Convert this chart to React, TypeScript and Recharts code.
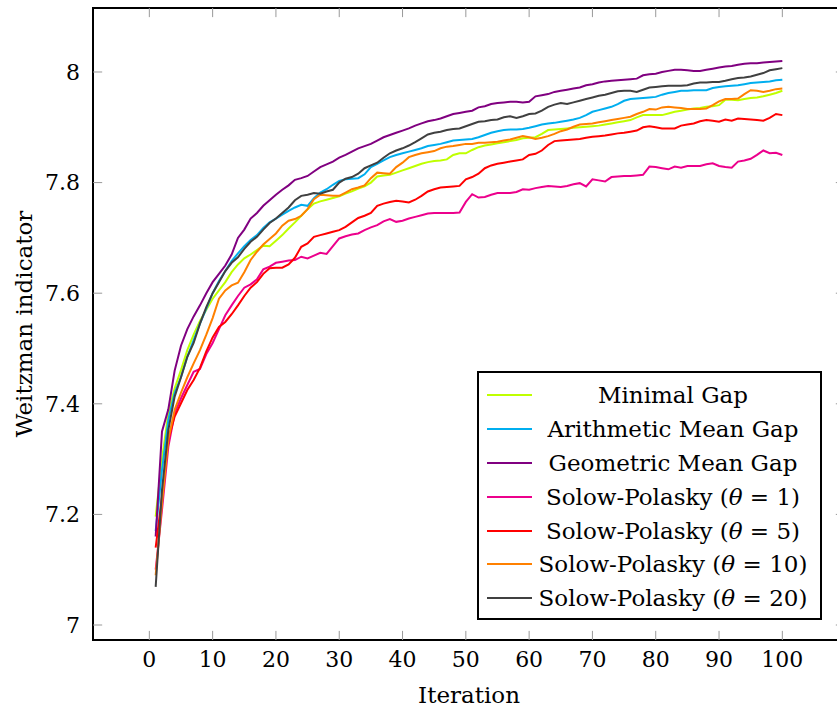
import React from "react";
import {
  LineChart,
  Line,
  XAxis,
  YAxis,
  ReferenceLine,
  ReferenceArea,
  Legend,
} from "recharts";

const FONT = "'DejaVu Serif', 'Liberation Serif', 'Noto Serif', serif";

const iterations = Array.from({ length: 100 }, (_, i) => i + 1);

const minimalGap = [
  7.196, 7.3, 7.383, 7.428, 7.461, 7.497, 7.525, 7.55, 7.57, 7.59,
  7.605, 7.62, 7.638, 7.652, 7.663, 7.67, 7.678, 7.686, 7.685, 7.695,
  7.705, 7.717, 7.728, 7.74, 7.752, 7.762, 7.766, 7.769, 7.772, 7.775,
  7.78, 7.784, 7.789, 7.793, 7.8, 7.811, 7.813, 7.814, 7.818, 7.822,
  7.826, 7.83, 7.834, 7.837, 7.839, 7.84, 7.842, 7.85, 7.853, 7.853,
  7.859, 7.864, 7.867, 7.869, 7.871, 7.873, 7.875, 7.877, 7.88, 7.881,
  7.882, 7.888, 7.895, 7.896, 7.897, 7.898, 7.899, 7.9, 7.901, 7.902,
  7.903, 7.905, 7.907, 7.909, 7.911, 7.913, 7.918, 7.922, 7.922, 7.922,
  7.922, 7.925, 7.928, 7.93, 7.932, 7.934, 7.935, 7.937, 7.938, 7.94,
  7.95, 7.95, 7.949, 7.951, 7.953, 7.954, 7.956, 7.959, 7.962, 7.966,
];

const arithmeticGap = [
  7.17, 7.28, 7.371, 7.42, 7.448, 7.485, 7.515, 7.545, 7.572, 7.6,
  7.622, 7.64, 7.658, 7.672, 7.685, 7.696, 7.705, 7.718, 7.728, 7.735,
  7.742, 7.749, 7.755, 7.76, 7.758, 7.772, 7.782, 7.788, 7.796, 7.803,
  7.806, 7.807, 7.808, 7.815, 7.828, 7.834, 7.84, 7.846, 7.85, 7.853,
  7.856, 7.859, 7.862, 7.866, 7.868, 7.87, 7.873, 7.876, 7.877, 7.878,
  7.879, 7.882, 7.886, 7.89, 7.893, 7.895, 7.896, 7.896, 7.897, 7.899,
  7.902, 7.905, 7.907, 7.908, 7.91, 7.912, 7.914, 7.917, 7.922, 7.928,
  7.931, 7.934, 7.937, 7.942, 7.948, 7.951, 7.952, 7.953, 7.954, 7.955,
  7.959, 7.962, 7.964, 7.966, 7.966, 7.967, 7.967, 7.967, 7.971, 7.973,
  7.974, 7.975, 7.976, 7.978, 7.98, 7.981, 7.982, 7.983, 7.985, 7.986,
];

const geometricGap = [
  7.16, 7.35, 7.39, 7.46, 7.505, 7.535, 7.558, 7.578, 7.6, 7.62,
  7.635, 7.65, 7.67, 7.7, 7.715, 7.735, 7.745, 7.758, 7.768, 7.778,
  7.787, 7.795, 7.805, 7.808, 7.812, 7.82, 7.828, 7.833, 7.838, 7.845,
  7.85, 7.856, 7.862, 7.866, 7.87, 7.876, 7.882, 7.886, 7.89, 7.894,
  7.898, 7.903, 7.907, 7.911, 7.913, 7.916, 7.92, 7.924, 7.926, 7.928,
  7.93, 7.936, 7.938, 7.942, 7.944, 7.945, 7.946, 7.946, 7.945, 7.946,
  7.956, 7.958, 7.96, 7.964, 7.966, 7.968, 7.97, 7.972, 7.976, 7.978,
  7.981, 7.983, 7.984, 7.985, 7.986, 7.987, 7.988, 7.994, 7.996, 7.997,
  8.0, 8.002, 8.004, 8.004, 8.003, 8.002, 8.002, 8.004, 8.006, 8.008,
  8.01, 8.011, 8.013, 8.015, 8.016, 8.016, 8.017, 8.018, 8.019, 8.02,
];

const solowTheta1 = [
  7.1, 7.208, 7.322, 7.383, 7.41, 7.434, 7.458, 7.463, 7.49, 7.51,
  7.535, 7.56, 7.578, 7.595, 7.61, 7.616, 7.625, 7.643, 7.648, 7.655,
  7.657, 7.659, 7.66, 7.666, 7.663, 7.668, 7.673, 7.671, 7.685, 7.699,
  7.703, 7.706, 7.708, 7.714, 7.719, 7.723, 7.73, 7.734, 7.729, 7.731,
  7.735, 7.738, 7.741, 7.744, 7.745, 7.745, 7.745, 7.745, 7.746, 7.765,
  7.779, 7.773, 7.774, 7.778, 7.781, 7.781, 7.781, 7.783, 7.788, 7.787,
  7.79, 7.792, 7.794, 7.793, 7.792, 7.794, 7.797, 7.799, 7.793, 7.806,
  7.804, 7.802, 7.81, 7.811, 7.812, 7.812, 7.813, 7.814, 7.829, 7.828,
  7.826, 7.824, 7.829, 7.827, 7.83, 7.83, 7.83, 7.833, 7.835, 7.83,
  7.828, 7.827, 7.838, 7.84, 7.843, 7.85, 7.858, 7.853, 7.854, 7.85,
];

const solowTheta5 = [
  7.14, 7.232, 7.335, 7.377, 7.401, 7.425, 7.443, 7.465, 7.495, 7.52,
  7.539, 7.548, 7.562, 7.578, 7.595, 7.61, 7.62, 7.635, 7.645, 7.646,
  7.646, 7.652, 7.664, 7.684, 7.69, 7.702, 7.705, 7.708, 7.711, 7.714,
  7.72, 7.728, 7.736, 7.74, 7.745, 7.758, 7.762, 7.765, 7.767, 7.766,
  7.764, 7.769, 7.776, 7.784, 7.788, 7.791, 7.792, 7.793, 7.794, 7.806,
  7.81, 7.816, 7.826, 7.831, 7.834, 7.836, 7.838, 7.84, 7.842, 7.85,
  7.852, 7.858, 7.868, 7.875, 7.876, 7.877, 7.878, 7.879, 7.881, 7.883,
  7.884, 7.885, 7.887, 7.889, 7.89, 7.892, 7.894, 7.9, 7.902, 7.9,
  7.898, 7.898, 7.898, 7.903, 7.905, 7.907, 7.911, 7.913, 7.912, 7.91,
  7.914, 7.912, 7.916, 7.915, 7.914, 7.913, 7.912, 7.917, 7.924, 7.922,
];

const solowTheta10 = [
  7.09, 7.22, 7.335, 7.389, 7.42, 7.448, 7.473, 7.497, 7.525, 7.555,
  7.59, 7.605, 7.614, 7.619, 7.638, 7.66, 7.675, 7.688, 7.698, 7.708,
  7.722, 7.731, 7.734, 7.74, 7.752, 7.77, 7.778, 7.777, 7.776, 7.776,
  7.782, 7.788, 7.791, 7.795, 7.808, 7.818, 7.817, 7.816, 7.828, 7.836,
  7.846, 7.85, 7.853, 7.855, 7.857, 7.862, 7.865, 7.866, 7.868, 7.87,
  7.87, 7.872, 7.872, 7.873, 7.874, 7.876, 7.878, 7.881, 7.884, 7.882,
  7.879, 7.881, 7.884, 7.888, 7.893, 7.896, 7.901, 7.905, 7.906, 7.907,
  7.909, 7.911, 7.913, 7.915, 7.917, 7.919, 7.924, 7.928, 7.933, 7.932,
  7.936, 7.937, 7.936, 7.935, 7.933, 7.933, 7.933, 7.934, 7.94, 7.947,
  7.951, 7.951, 7.952, 7.96, 7.967, 7.966, 7.964, 7.966, 7.969, 7.97,
];

const solowTheta20 = [
  7.069, 7.244, 7.353, 7.413, 7.448, 7.485, 7.51, 7.545, 7.575, 7.6,
  7.62, 7.64, 7.655, 7.665, 7.68, 7.693, 7.702, 7.715, 7.727, 7.735,
  7.745, 7.755, 7.768, 7.776, 7.778, 7.781, 7.78, 7.784, 7.787, 7.8,
  7.807, 7.81, 7.816, 7.826, 7.831, 7.836, 7.845, 7.853, 7.858, 7.862,
  7.867, 7.873, 7.88, 7.887, 7.89, 7.892, 7.895, 7.897, 7.898, 7.902,
  7.906, 7.91, 7.911, 7.913, 7.914, 7.918, 7.92, 7.917, 7.92, 7.924,
  7.925, 7.93, 7.937, 7.941, 7.944, 7.942, 7.945, 7.948, 7.951, 7.954,
  7.957, 7.959, 7.962, 7.965, 7.966, 7.966, 7.964, 7.968, 7.972, 7.973,
  7.974, 7.975, 7.975, 7.975, 7.976, 7.979, 7.981, 7.981, 7.982, 7.982,
  7.984, 7.987, 7.989, 7.99, 7.992, 7.995, 7.998, 8.003, 8.005, 8.007,
];

const xTicks = [0, 10, 20, 30, 40, 50, 60, 70, 80, 90, 100];
const yTicks = [7, 7.2, 7.4, 7.6, 7.8, 8];

// pgfplots-style enlarged limits
const X_MIN = -8.9;
const X_MAX = 109.9;
const Y_MIN = 6.9729;
const Y_MAX = 8.1157;
const TICK_DX = 1.45;
const TICK_DY = 0.0165;

const series = [
  { key: "minimal", name: "Minimal Gap", color: "#bfff00", values: minimalGap },
  { key: "arith", name: "Arithmetic Mean Gap", color: "#00aeef", values: arithmeticGap },
  { key: "geo", name: "Geometric Mean Gap", color: "#800080", values: geometricGap },
  { key: "t1", name: "Solow-Polasky", theta: "1", color: "#ec008c", values: solowTheta1 },
  { key: "t5", name: "Solow-Polasky", theta: "5", color: "#ff0000", values: solowTheta5 },
  { key: "t10", name: "Solow-Polasky", theta: "10", color: "#ff8000", values: solowTheta10 },
  { key: "t20", name: "Solow-Polasky", theta: "20", color: "#404040", values: solowTheta20 },
];

const data = iterations.map((it, i) => {
  const row: Record<string, number> = { it };
  series.forEach((s) => {
    row[s.key] = s.values[i];
  });
  return row;
});

function LegendBox() {
  return (
    <div
      style={{
        boxSizing: "border-box",
        width: 345,
        height: 249,
        border: "2px solid #000",
        background: "#fff",
        padding: "5px 0 0 0",
        fontFamily: FONT,
        fontSize: 23,
        color: "#000",
      }}
    >
      {series.map((s) => (
        <div
          key={s.key}
          style={{ display: "flex", alignItems: "center", height: 33.9 }}
        >
          <div
            style={{
              marginLeft: 8,
              width: 45,
              height: 2,
              background: s.color,
            }}
          />
          <div style={{ flex: 1, textAlign: "center", whiteSpace: "nowrap", paddingRight: 6 }}>
            {s.theta ? (
              <>
                {s.name} (<i>θ</i> = {s.theta})
              </>
            ) : (
              s.name
            )}
          </div>
        </div>
      ))}
    </div>
  );
}

export default function App() {
  return (
    <div
      style={{
        position: "absolute",
        left: 0,
        top: 0,
        width: 837,
        height: 711,
        overflow: "hidden",
        background: "#fff",
      }}
    >
      <LineChart
        width={850}
        height={711}
        data={data}
        margin={{ top: 8, right: 5, bottom: 31, left: 0 }}
      >
        <XAxis
          dataKey="it"
          type="number"
          domain={[X_MIN, X_MAX]}
          ticks={xTicks}
          allowDataOverflow
          axisLine={false}
          tickLine={false}
          tickSize={0}
          tickMargin={11}
          height={40}
          tick={{ fill: "#000", fontSize: 22, fontFamily: FONT }}
          label={{
            value: "Iteration",
            position: "bottom",
            offset: 7,
            fill: "#000",
            fontSize: 23,
            fontFamily: FONT,
          }}
        />
        <YAxis
          type="number"
          domain={[Y_MIN, Y_MAX]}
          ticks={yTicks}
          allowDataOverflow
          axisLine={false}
          tickLine={false}
          tickSize={0}
          tickMargin={13}
          width={93}
          tick={{ fill: "#000", fontSize: 22, fontFamily: FONT }}
          label={{
            content: () => (
              <text
                transform="translate(24,324) rotate(-90)"
                textAnchor="middle"
                dominantBaseline="central"
                fill="#000"
                fontSize={23}
                fontFamily={FONT}
              >
                Weitzman indicator
              </text>
            ),
          }}
        />
        {xTicks.map((t) => (
          <ReferenceLine
            key={`xb-${t}`}
            segment={[{ x: t, y: Y_MIN }, { x: t, y: Y_MIN + TICK_DY }]}
            stroke="#999"
            strokeWidth={1}
          />
        ))}
        {xTicks.map((t) => (
          <ReferenceLine
            key={`xt-${t}`}
            segment={[{ x: t, y: Y_MAX }, { x: t, y: Y_MAX - TICK_DY }]}
            stroke="#999"
            strokeWidth={1}
          />
        ))}
        {yTicks.map((t) => (
          <ReferenceLine
            key={`yl-${t}`}
            segment={[{ x: X_MIN, y: t }, { x: X_MIN + TICK_DX, y: t }]}
            stroke="#999"
            strokeWidth={1}
          />
        ))}
        {yTicks.map((t) => (
          <ReferenceLine
            key={`yr-${t}`}
            segment={[{ x: X_MAX, y: t }, { x: X_MAX - TICK_DX, y: t }]}
            stroke="#999"
            strokeWidth={1}
          />
        ))}
        <ReferenceArea
          x1={X_MIN}
          x2={X_MAX}
          y1={Y_MIN}
          y2={Y_MAX}
          fill="none"
          fillOpacity={0}
          stroke="#000"
          strokeWidth={2}
        />
        {series.map((s) => (
          <Line
            key={s.key}
            dataKey={s.key}
            name={s.name}
            type="linear"
            stroke={s.color}
            strokeWidth={2}
            dot={false}
            activeDot={false}
            isAnimationActive={false}
          />
        ))}
        <Legend
          layout="vertical"
          align="center"
          verticalAlign="middle"
          wrapperStyle={{ position: "absolute", left: 477, top: 371, width: 345 }}
          content={() => <LegendBox />}
        />
      </LineChart>
    </div>
  );
}
